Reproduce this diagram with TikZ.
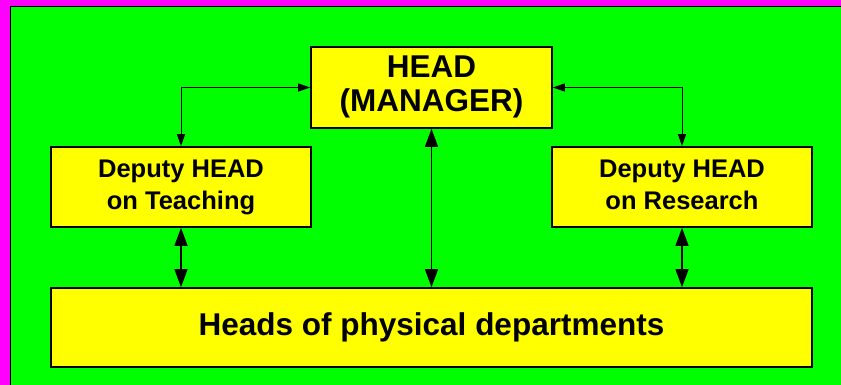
\documentclass[tikz,border=0pt]{standalone}
\usepackage{fontspec}
\setmainfont{Liberation Sans}
\usetikzlibrary{arrows.meta}
\definecolor{frame}{HTML}{FF00FF}
\definecolor{field}{HTML}{00FF00}
\definecolor{boxfill}{HTML}{FFFF00}
\begin{document}
\begin{tikzpicture}[x=1pt,y=-1pt,
  orgbox/.style={draw=black, line width=1.6pt, fill=boxfill, inner sep=0pt,
    align=center, font=\bfseries},
  bigtext/.style={font=\bfseries\fontsize{31.5}{34}\selectfont},
  smalltext/.style={font=\bfseries\fontsize{25.5}{32}\selectfont},
  link/.style={line width=1pt, {Triangle[length=12pt,width=8pt]}-{Triangle[length=12pt,width=8pt]}},
  biglink/.style={line width=1.4pt, {Triangle[length=18pt,width=13pt]}-{Triangle[length=18pt,width=13pt]}}]
  \useasboundingbox (0,0) rectangle (841,385);
  % background: magenta frame with a green field
  \fill[frame] (0,0) rectangle (841,385);
  \fill[field] (10.5,6.5) rectangle (841,385);
  \draw[line width=1.5pt] (10.5,385) -- (10.5,6.5) -- (841,6.5);

  % boxes
  \node[orgbox, bigtext, minimum width=241pt, minimum height=81pt]
    (head) at (431.5,87.5) {\strut HEAD\\\strut(MANAGER)};
  \node[orgbox, smalltext, minimum width=260pt, minimum height=80pt]
    (teach) at (181,187) {\strut Deputy HEAD\\\strut on Teaching};
  \node[orgbox, smalltext, minimum width=260pt, minimum height=80pt]
    (res) at (682,187) {\strut Deputy HEAD\\\strut on Research};
  \node[orgbox, bigtext, minimum width=761pt, minimum height=79pt]
    (dept) at (431.5,327.5) {Heads of physical departments};

  % connectors
  \draw[link] (head.west) -| (teach.north);
  \draw[link] (head.east) -| (res.north);
  \draw[biglink] (head.south) -- (dept.north);
  \draw[biglink] (teach.south) -- (teach.south |- dept.north);
  \draw[biglink] (res.south) -- (res.south |- dept.north);
\end{tikzpicture}
\end{document}
